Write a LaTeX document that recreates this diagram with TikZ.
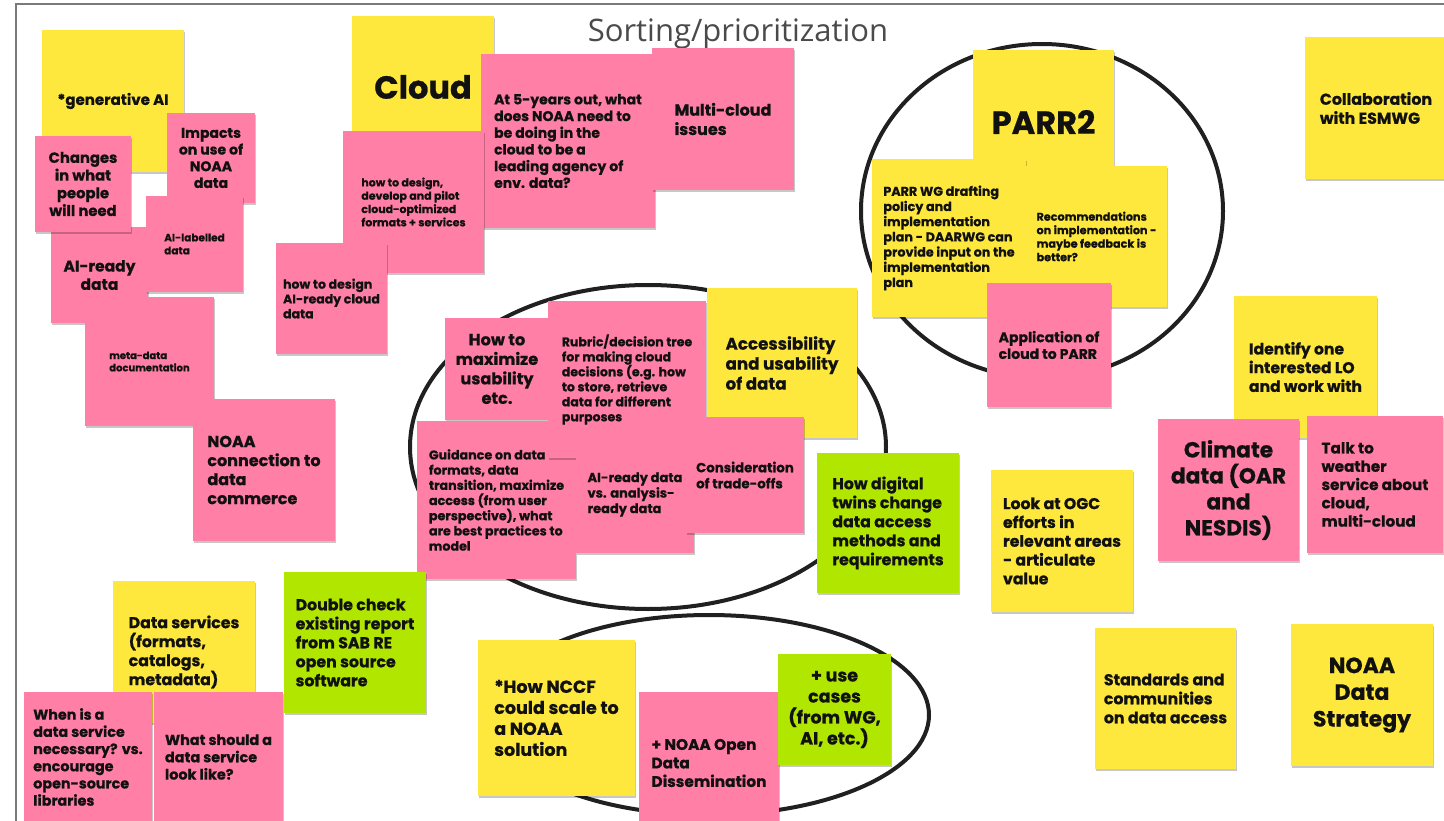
\documentclass[tikz,border=0pt]{standalone}
\usepackage{fontspec}
\setmainfont{Poppins}[BoldFeatures={FakeBold=0.7}]
\newfontfamily\titlefont{Open Sans}
\usetikzlibrary{shadows}
\definecolor{sy}{HTML}{FFE83D}
\definecolor{sp}{HTML}{FF7FA6}
\definecolor{sg}{HTML}{B0E600}
\definecolor{ink}{HTML}{111111}
\definecolor{rim}{HTML}{202020}
\definecolor{tgray}{HTML}{4A4A4A}
\definecolor{frame}{HTML}{7A7A7A}
\tikzset{
  sticky/.style={inner sep=0pt, outer sep=0pt, text=ink, align=left,
    drop shadow={shadow xshift=0.6pt, shadow yshift=-1.6pt, opacity=0.22, fill=black}},
  yel/.style={sticky, fill=sy},
  pnk/.style={sticky, fill=sp},
  grn/.style={sticky, fill=sg},
  fs/.style 2 args={font=\fontsize{#1}{#2}\selectfont\bfseries},
  box/.style n args={4}{minimum width={#3-#1}, minimum height={#4-#2},
    at={({(#1+#3)/2},{(#2+#4)/2})}},
  loop/.style={draw=rim, line width=4pt},
}
\begin{document}
\begin{tikzpicture}[x=1pt, y=-1pt]
\useasboundingbox (0,0) rectangle (1444,821);
\fill[white] (0,0) rectangle (1444,821);
\draw[frame, line width=2pt] (16,830) -- (16,4) -- (1450,4);

% ellipses (under the notes)
\draw[loop] (648,447) ellipse [x radius=238, y radius=162];
\draw[loop] (1042,211) ellipse [x radius=181, y radius=167];
\draw[loop] (709,715) ellipse [x radius=220, y radius=100];

% title
\node[font=\titlefont\fontsize{31}{36}\selectfont, text=tgray, anchor=base] (title) at (738,42) {Sorting/prioritization};

% generative AI cluster
\node[yel, box={42}{30}{184}{172}, fs={15}{18}] (genai) {*generative AI};
\node[pnk, box={51}{227}{148}{323}, fs={15.5}{18.3}, align=center] (aiready) {AI-ready\\data};
\node[pnk, box={35}{136}{131}{232}, fs={14.8}{17.7}, align=center] (changes) {Changes\\in what\\people\\will need};
\node[pnk, box={167}{113}{255}{203}, fs={14}{16.7}, align=center] (impacts) {Impacts\\on use of\\NOAA\\data};
\node[pnk, box={146}{196}{243}{292}, fs={10.5}{13}] (ailab) {AI-labelled\\data};
\node[pnk, box={85}{297}{214}{426}, fs={10}{12.3}] (meta) {meta-data\\documentation};
\node[pnk, box={193}{399}{335}{541}, fs={16}{19}] (noaacon) {NOAA\\connection to\\data\\commerce};

% cloud cluster
\node[yel, box={352}{16}{494}{158}, fs={32}{38}] (cloud) {Cloud};
\node[pnk, box={481}{54}{655}{228}, fs={14}{16.7}] (at5) {At 5-years out, what\\does NOAA need to\\be doing in the\\cloud to be a\\leading agency of\\env. data?};
\node[pnk, box={343}{131}{484}{273}, fs={11}{13.3}] (develop) {how to design,\\develop and pilot\\cloud-optimized\\formats + services};
\node[pnk, box={276}{243}{387}{354}, fs={12.5}{14.8}] (aicloud) {how to design\\AI-ready cloud\\data};
\node[pnk, box={652}{48}{794}{190}, fs={16}{19.3}] (multi) {Multi-cloud\\issues};

% PARR cluster
\node[yel, box={973}{50}{1114}{194}, fs={32}{38}] (parr2) {PARR2};
\node[yel, box={872}{159}{1026}{317}, fs={12.7}{15.2}] (parrwg) {PARR WG drafting\\policy and\\implementation\\plan - DAARWG can\\provide input on the\\implementation\\plan};
\node[yel, box={1026}{166}{1167}{307}, fs={11.2}{13.5}] (recs) {Recommendations\\on implementation -\\maybe feedback is\\better?};
\node[pnk, box={987}{283}{1111}{407}, fs={14}{16.7}] (app) {Application of\\cloud to PARR};

% right column
\node[yel, box={1305}{37}{1447}{179}, fs={15.8}{19}] (collab) {Collaboration\\with ESMWG};
\node[yel, box={1234}{296}{1377}{438}, fs={15.6}{18.7}] (identify) {Identify one\\interested LO\\and work with};
\node[pnk, box={1158}{419}{1299}{561}, fs={21.7}{26}, align=center] (climate) {Climate\\data (OAR\\and\\NESDIS)};
\node[pnk, box={1307}{416}{1443}{553}, fs={15.2}{18.3}] (talk) {Talk to\\weather\\service about\\cloud,\\multi-cloud};
\node[yel, box={991}{470}{1133}{612}, fs={15.7}{18.8}] (ogc) {Look at OGC\\efforts in\\relevant areas\\- articulate\\value};

% middle cluster
\node[yel, box={707}{288}{857}{438}, fs={16.7}{20}] (access) {Accessibility\\and usability\\of data};
\node[pnk, box={445}{318}{549}{420}, fs={16.2}{19.5}, align=center] (howmax) {How to\\maximize\\usability\\etc.};
\node[pnk, box={417}{421}{576}{579}, fs={12.7}{15.2}] (guidance) {Guidance on data\\formats, data\\transition, maximize\\access (from user\\perspective), what\\are best practices to\\model};
\node[pnk, box={548}{301}{706}{458}, fs={12.5}{15}] (rubric) {Rubric/decision tree\\for making cloud\\decisions (e.g. how\\to store, retrieve\\data for different\\purposes};
\node[pnk, box={576}{436}{694}{553}, fs={13}{15.5}] (aivs) {AI-ready data\\vs. analysis-\\ready data};
\node[pnk, box={686}{417}{804}{533}, fs={13.3}{16}] (consid) {Consideration\\of trade-offs};
\node[grn, box={817}{453}{959}{593}, fs={15.8}{19}] (twins) {How digital\\twins change\\data access\\methods and\\requirements};

% bottom left
\node[yel, box={113}{581}{255}{723}, fs={15.8}{19}] (dataserv) {Data services\\(formats,\\catalogs,\\metadata)};
\node[pnk, box={24}{692}{152}{822}, fs={14.3}{17.2}] (when) {When is a\\data service\\necessary? vs.\\encourage\\open-source\\libraries};
\node[pnk, box={154}{692}{283}{822}, fs={14.4}{17.3}] (what) {What should a\\data service\\look like?};
\node[grn, box={284}{572}{426}{713}, fs={15.8}{19}] (double) {Double check\\existing report\\from SAB RE\\open source\\software};

% bottom middle
\node[yel, box={478}{640}{635}{796}, fs={17.5}{21}] (nccf) {*How NCCF\\could scale to\\a NOAA\\solution};
\node[pnk, box={639}{692}{779}{834}, fs={15.4}{18.5}] (opendata) {+ NOAA Open\\Data\\Dissemination};
\node[grn, box={778}{654}{891}{765}, fs={17.5}{21}, align=center] (usecases) {+ use\\cases\\(from WG,\\AI, etc.)};

% bottom right
\node[yel, box={1095}{628}{1236}{769}, fs={15.8}{19}] (standards) {Standards and\\communities\\on data access};
\node[yel, box={1291}{624}{1433}{766}, fs={22}{26.7}, align=center] (strategy) {NOAA\\Data\\Strategy};
\end{tikzpicture}
\end{document}
